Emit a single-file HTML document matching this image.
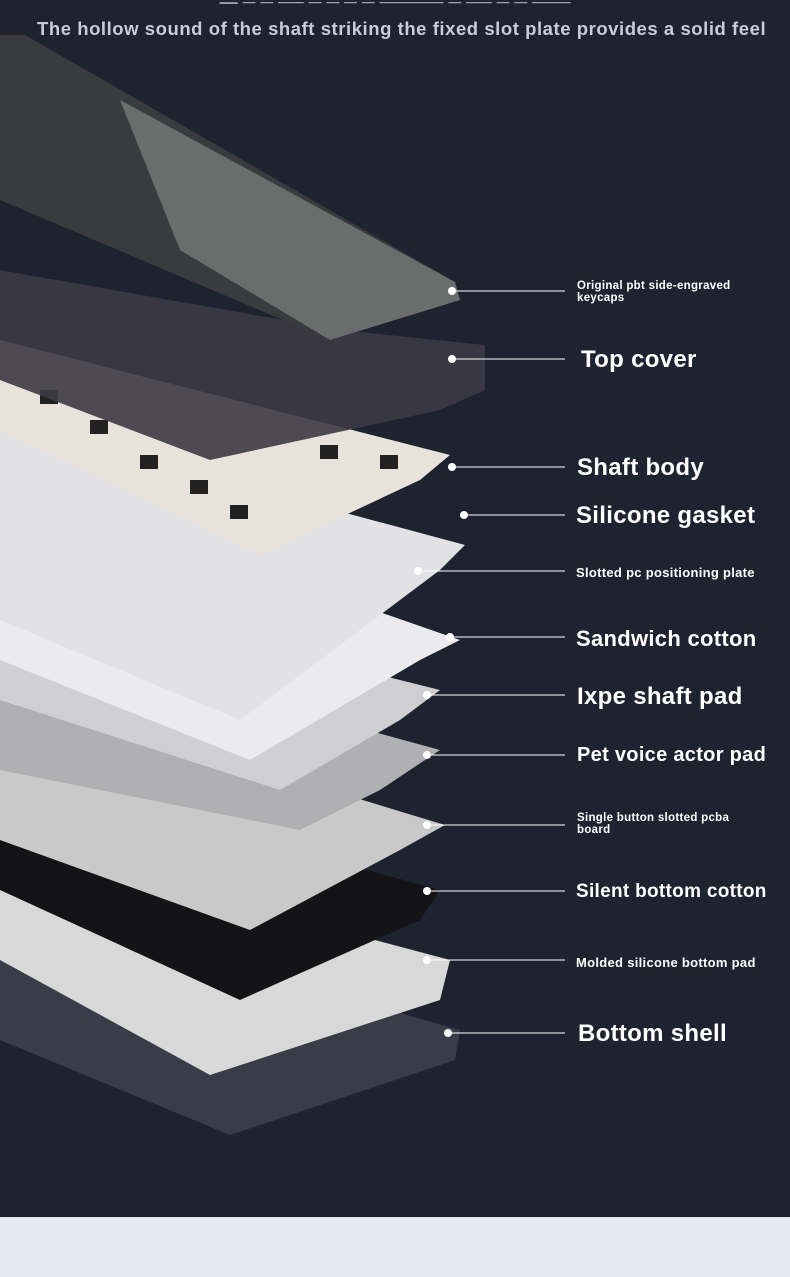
<!DOCTYPE html>
<html><head><style>
body{margin:0;width:790px;height:1277px;background:#1e2330;position:relative;overflow:hidden;font-family:"Liberation Sans",sans-serif}
.t{position:absolute;color:#fff;font-weight:bold;white-space:nowrap;letter-spacing:0.3px}
.b{font-size:24px}.s{font-size:13px}.xs{font-size:11.5px;line-height:12px}
</style></head><body>
<div style="position:absolute;left:0;top:-8px;width:790px;text-align:center;color:#9aa0ad;font-weight:bold;font-size:18px">— ─ ─ ── ─ ─ ─ ─ ───── ─ ── ─ ─ ───</div>
<div class="t" style="left:37px;top:18px;font-size:18.5px;color:#c8ccd6;letter-spacing:0.55px">The hollow sound of the shaft striking the fixed slot plate provides a solid feel</div>
<svg width="790" height="1277" style="position:absolute;left:0;top:0">
<polygon points="0,900 460,1030 455,1060 230,1135 0,1040" fill="#3a3c48"/>
<polygon points="0,840 450,960 440,1000 210,1075 0,960" fill="#d8d8d8"/>
<polygon points="0,770 440,890 420,920 240,1000 0,890" fill="#141416"/>
<polygon points="0,690 445,825 400,850 250,930 0,840" fill="#c9c9c9"/>
<polygon points="0,630 440,750 380,790 300,830 0,770" fill="#b0b0b3"/>
<polygon points="0,580 440,690 400,720 280,790 0,700" fill="#cfcfd2"/>
<polygon points="0,480 460,640 420,660 250,760 0,660" fill="#ebebed"/>
<polygon points="0,420 465,545 440,570 240,720 0,620" fill="#e2e2e4"/>
<polygon points="0,340 450,455 420,480 260,555 0,430" fill="#e8e2da"/>
<g fill="#222">
<rect x="40" y="390" width="18" height="14"/><rect x="90" y="420" width="18" height="14"/><rect x="140" y="455" width="18" height="14"/><rect x="190" y="480" width="18" height="14"/><rect x="230" y="505" width="18" height="14"/><rect x="320" y="445" width="18" height="14"/><rect x="380" y="455" width="18" height="14"/>
</g>
<polygon points="0,270 340,330 485,345 485,390 440,410 210,460 0,380" fill="#3c3a44" opacity="0.9"/>
<polygon points="0,35 25,35 455,282 460,300 330,340 0,200" fill="#3a3b3e"/>
<polygon points="120,100 455,282 460,300 330,340 180,250" fill="#6b6d6d"/>
<g stroke="#fff" stroke-width="1">
<line x1="452" y1="291" x2="565" y2="291"/><line x1="452" y1="359" x2="565" y2="359"/><line x1="452" y1="467" x2="565" y2="467"/><line x1="464" y1="515" x2="565" y2="515"/><line x1="418" y1="571" x2="565" y2="571"/><line x1="450" y1="637" x2="565" y2="637"/><line x1="427" y1="695" x2="565" y2="695"/><line x1="427" y1="755" x2="565" y2="755"/><line x1="427" y1="825" x2="565" y2="825"/><line x1="427" y1="891" x2="565" y2="891"/><line x1="427" y1="960" x2="565" y2="960"/><line x1="448" y1="1033" x2="565" y2="1033"/>
</g>
<g fill="#fff">
<circle cx="452" cy="291" r="4"/><circle cx="452" cy="359" r="4"/><circle cx="452" cy="467" r="4"/><circle cx="464" cy="515" r="4"/><circle cx="418" cy="571" r="4"/><circle cx="450" cy="637" r="4"/><circle cx="427" cy="695" r="4"/><circle cx="427" cy="755" r="4"/><circle cx="427" cy="825" r="4"/><circle cx="427" cy="891" r="4"/><circle cx="427" cy="960" r="4"/><circle cx="448" cy="1033" r="4"/>
</g>
</svg>
<div class="t xs" style="left:577px;top:280px">Original pbt side-engraved<br>keycaps</div>
<div class="t b" style="left:581px;top:346px">Top cover</div>
<div class="t b" style="left:577px;top:454px">Shaft body</div>
<div class="t b" style="left:576px;top:502px">Silicone gasket</div>
<div class="t s" style="left:576px;top:565px">Slotted pc positioning plate</div>
<div class="t b" style="left:576px;top:626px;font-size:22px">Sandwich cotton</div>
<div class="t b" style="left:577px;top:683px">Ixpe shaft pad</div>
<div class="t b" style="left:577px;top:744px;font-size:20px">Pet voice actor pad</div>
<div class="t xs" style="left:577px;top:812px">Single button slotted pcba<br>board</div>
<div class="t b" style="left:576px;top:881px;font-size:19px">Silent bottom cotton</div>
<div class="t s" style="left:576px;top:955px">Molded silicone bottom pad</div>
<div class="t b" style="left:578px;top:1020px">Bottom shell</div>
<div style="position:absolute;left:0;top:1217px;width:790px;height:60px;background:#e6e9f2"></div>
</body></html>
